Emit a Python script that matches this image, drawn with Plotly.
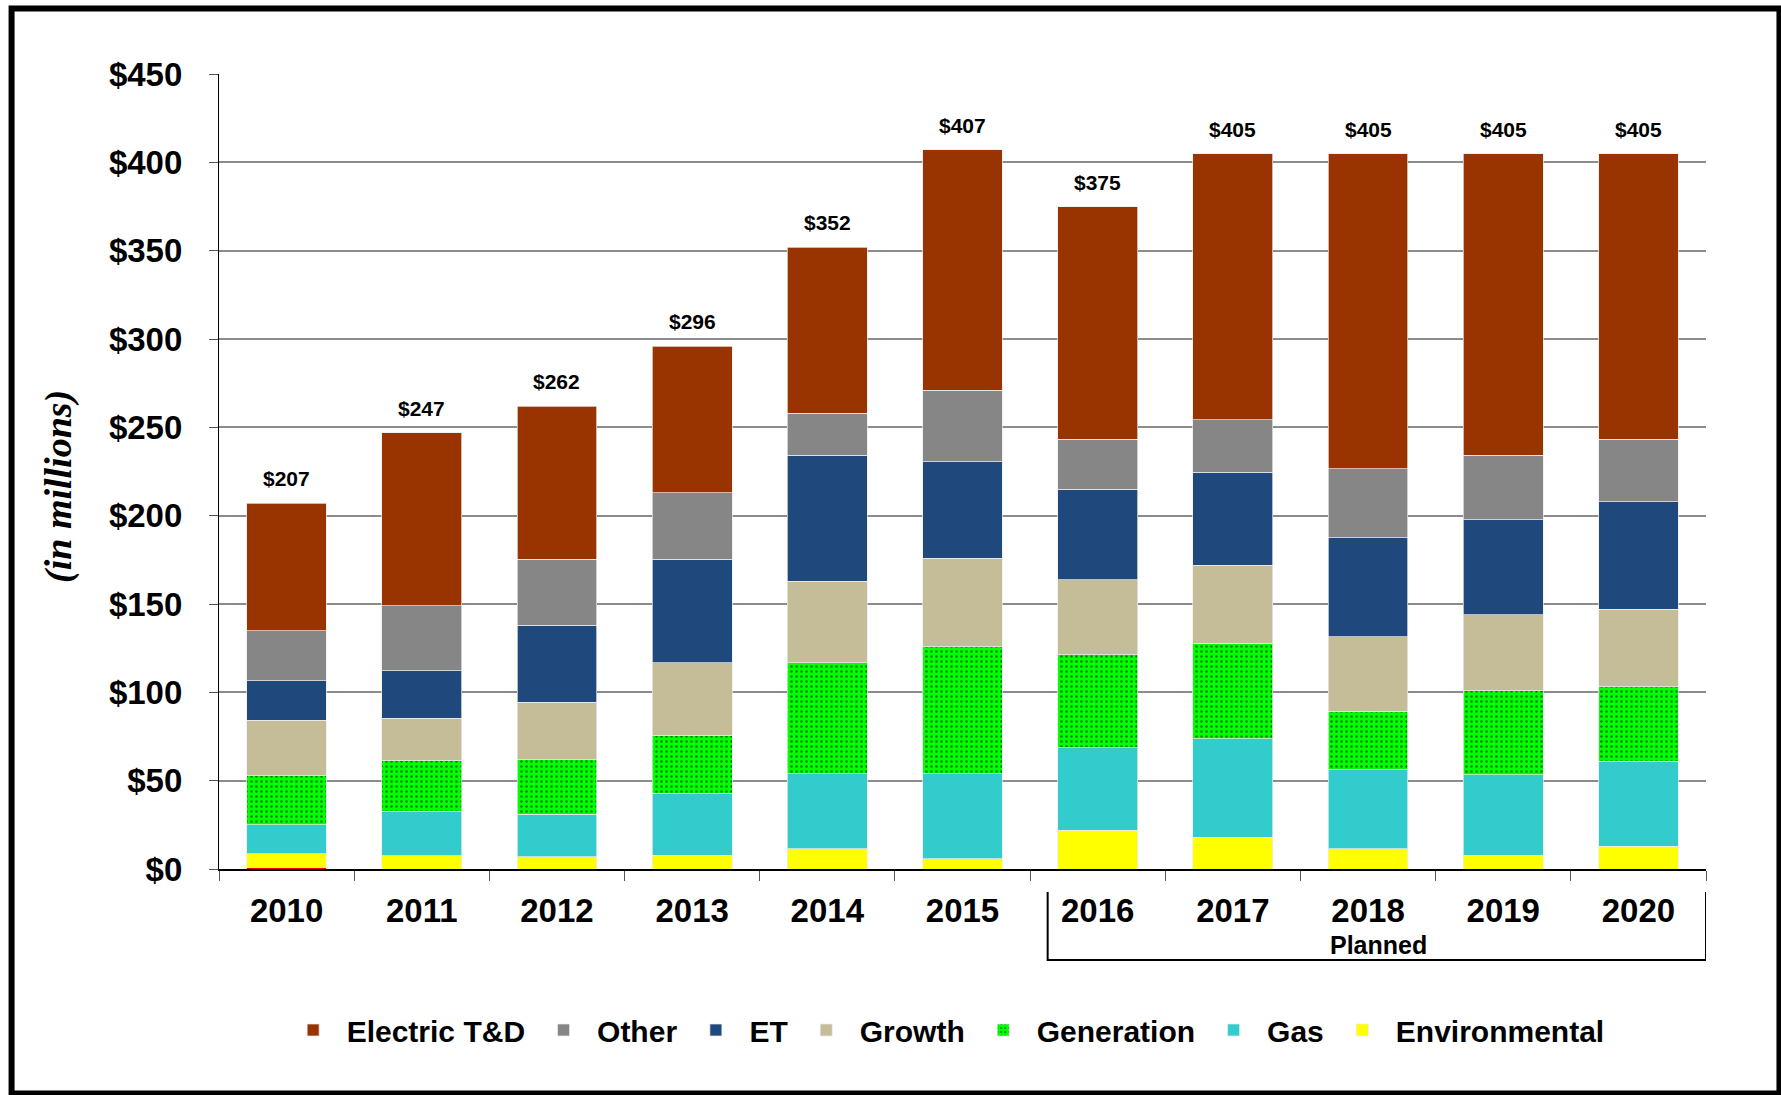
import plotly.graph_objects as go

years = ["2010", "2011", "2012", "2013", "2014", "2015", "2016", "2017", "2018", "2019", "2020"]
totals = [207, 247, 262, 296, 352, 407, 375, 405, 405, 405, 405]
total_labels = ["$207", "$247", "$262", "$296", "$352", "$407", "$375", "$405", "$405", "$405", "$405"]

red_base = [1, 0, 0, 0, 0, 0, 0, 0, 0, 0, 0]
environmental = [7.5, 7.4, 7.0, 7.7, 11.6, 5.8, 21.8, 18.0, 11.6, 7.7, 12.8]
gas = [16.6, 25.4, 23.9, 35.3, 42.3, 48.1, 46.9, 55.8, 44.9, 45.6, 48.2]
generation = [27.7, 28.7, 31.0, 32.7, 62.9, 71.9, 52.6, 53.9, 32.7, 47.5, 42.3]
growth = [31.5, 23.9, 32.6, 41.1, 46.2, 50.1, 42.4, 44.3, 42.4, 43.0, 43.7]
et = [22.2, 26.9, 43.5, 58.4, 71.3, 54.5, 51.3, 52.6, 55.8, 53.9, 61.0]
other = [28.3, 36.6, 37.2, 37.8, 23.7, 40.5, 28.3, 29.6, 39.2, 36.6, 35.3]
electric_td = [72.2, 98.1, 86.8, 83.0, 94.0, 136.1, 131.7, 150.8, 178.4, 170.7, 161.7]

y_tickvals = [0, 50, 100, 150, 200, 250, 300, 350, 400, 450]
y_ticktext = ["$0", "$50", "$100", "$150", "$200", "$250", "$300", "$350", "$400", "$450"]

FONT = "Liberation Sans, Arial, sans-serif"
edge = dict(color="rgba(235,235,235,0.9)", width=0.8)

fig = go.Figure()
series = [
    ("", red_base, "#FF0000", False),
    ("Environmental", environmental, "#FFFF00", True),
    ("Gas", gas, "#33CCCC", True),
    ("Generation", generation, "#00FF00", True),
    ("Growth", growth, "#C4BD97", True),
    ("ET", et, "#1F497D", True),
    ("Other", other, "#868686", True),
    ("Electric T&D", electric_td, "#993300", True),
]
for name, vals, color, show in series:
    marker = dict(color=color, line=edge)
    if name == "Generation":
        marker["pattern"] = dict(shape=".", fgcolor="black", bgcolor="#00FF00",
                                 size=5, solidity=0.2)
    fig.add_trace(go.Bar(x=years, y=vals, name=name, marker=marker,
                         showlegend=show, width=0.59))

for i, (tot, lab) in enumerate(zip(totals, total_labels)):
    fig.add_annotation(x=i, y=tot, xref="x", yref="y", text=lab, showarrow=False,
                       yanchor="bottom", yshift=11,
                       font=dict(family=FONT, size=21, color="black", weight="bold"))

fig.update_layout(
    width=1781, height=1095,
    margin=dict(l=219, r=75, t=74, b=226),
    paper_bgcolor="white", plot_bgcolor="white",
    barmode="stack", bargap=0.41,
    font=dict(family=FONT, color="black"),
    legend=dict(orientation="h", traceorder="reversed", x=0.488, xanchor="center",
                y=-0.2025, yanchor="middle",
                font=dict(family=FONT, size=30, color="black", weight="bold"),
                itemwidth=57, itemclick=False),
    xaxis=dict(type="category", categoryorder="array", categoryarray=years,
               range=[-0.5, 10.5],
               showline=True, linecolor="black", linewidth=1.5,
               ticks="outside", ticklen=10, tickcolor="#555", tickson="boundaries",
               tickfont=dict(family=FONT, size=33, color="black", weight="bold"),
               ticklabelstandoff=12, showgrid=False),
    yaxis=dict(range=[0, 450], tickvals=y_tickvals, ticktext=y_ticktext,
               showline=True, linecolor="black", linewidth=1.2,
               ticks="outside", ticklen=9, tickcolor="#555",
               tickfont=dict(family=FONT, size=33, color="black", weight="bold"),
               ticklabelstandoff=20,
               showgrid=True, gridcolor="#8C8C8C", gridwidth=1.5, zeroline=False),
)

# y axis title
fig.add_annotation(text="(in millions)", xref="paper", yref="paper", x=-0.1076, y=0.4818,
                   showarrow=False, textangle=-90, xanchor="center", yanchor="middle",
                   font=dict(family="Liberation Serif, Times New Roman, serif", size=38,
                             color="black", weight="bold", style="italic"))

# Planned bracket
fig.add_shape(type="path", xref="x", yref="paper",
              path="M 5.63,-0.0289 L 5.63,-0.1145 L 10.5,-0.1145 L 10.5,-0.0289",
              line=dict(color="black", width=2))
fig.add_annotation(text="Planned", xref="x", yref="paper", x=8.08, y=-0.0956,
                   showarrow=False, xanchor="center", yanchor="middle",
                   font=dict(family=FONT, size=25, color="black", weight="bold"))

# outer frame
fig.add_shape(type="rect", xref="paper", yref="paper",
              x0=-0.1395, x1=1.0494, y0=-0.2825, y1=1.0824,
              line=dict(color="black", width=6), layer="above")

fig.write_html("out.html", config={"displayModeBar": False},
               post_script="document.body.style.margin='0';document.body.style.overflow='hidden';")
